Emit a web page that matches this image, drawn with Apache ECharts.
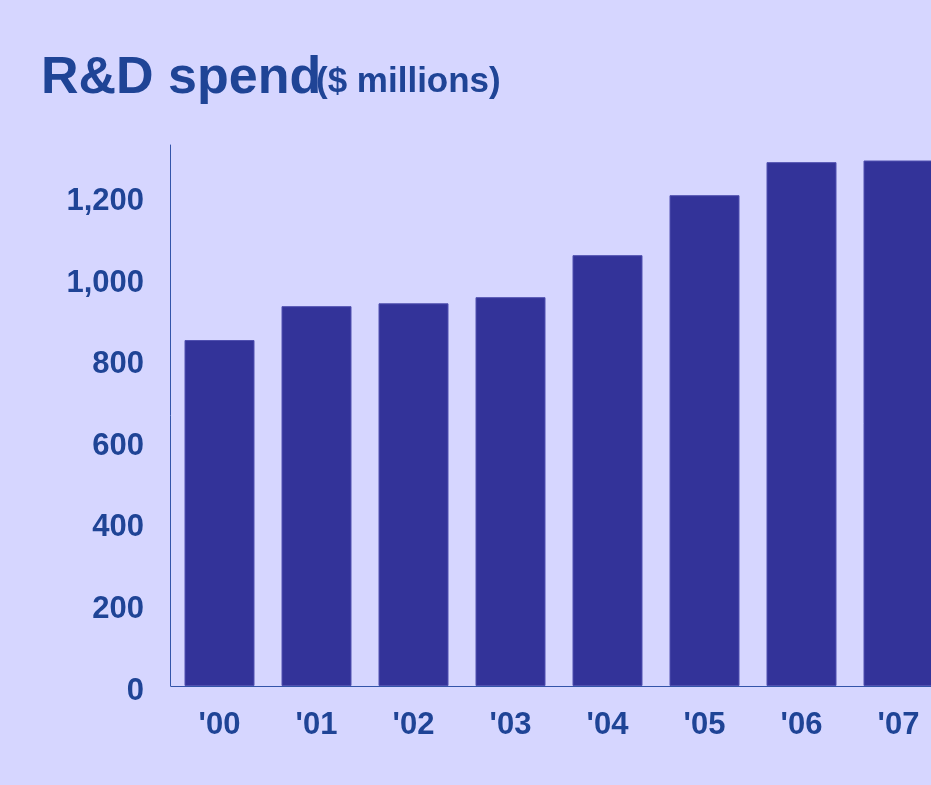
<!DOCTYPE html>
<html>
<head>
<meta charset="utf-8">
<script src="https://cdn.jsdelivr.net/npm/echarts@6/dist/echarts.min.js"></script>
<style>
html,body{margin:0;padding:0;background:#d6d6ff;overflow:hidden;width:931px;height:785px;}
#chart{width:960px;height:785px;}
</style>
</head>
<body>
<div id="chart"></div>
<script>
var categories = ["'00", "'01", "'02", "'03", "'04", "'05", "'06", "'07"];
var rdSpend = [848, 931, 938, 953, 1056, 1203, 1284, 1288];
var yTicks = [0, 200, 400, 600, 800, 1000, 1200];

var textColor = '#1f4496';
var font = '"Liberation Sans", Arial, sans-serif';

var chart = echarts.init(document.getElementById('chart'));
chart.setOption({
  backgroundColor: '#d6d6ff',
  animation: false,
  title: [
    { text: 'R&D spend', left: 36, top: 48,
      textStyle: { color: textColor, fontFamily: font, fontWeight: 'bold', fontSize: 52 } },
    { text: '($ millions)', left: 311, top: 60,
      textStyle: { color: textColor, fontFamily: font, fontWeight: 'bold', fontSize: 35 } }
  ],
  grid: { left: 171, top: 145, width: 776, bottom: 99, containLabel: false },
  xAxis: {
    type: 'category',
    data: categories,
    axisLine: { lineStyle: { color: '#3355aa', width: 1 } },
    axisTick: { show: false },
    axisLabel: { color: textColor, fontFamily: font, fontWeight: 'bold', fontSize: 31, margin: 24 }
  },
  yAxis: {
    type: 'value',
    min: 0, max: 1326, interval: 200,
    offset: 1,
    axisLine: { show: true, lineStyle: { color: '#3355aa', width: 1 } },
    axisTick: { show: false },
    splitLine: { show: false },
    axisLabel: {
      color: textColor, fontFamily: font, fontWeight: 'bold', fontSize: 31, margin: 26,
      showMaxLabel: false,
      formatter: function (v) { return yTicks.indexOf(v) >= 0 ? '{a|' + v.toLocaleString('en-US') + '}' : ''; },
      rich: { a: { color: textColor, fontFamily: font, fontWeight: 'bold', fontSize: 31, padding: [10, 0, 0, 0] } }
    }
  },
  series: [{
    type: 'bar',
    data: rdSpend,
    barWidth: 70,
    itemStyle: { color: '#333399', borderColor: '#5050b0', borderWidth: 1 }
  }]
});
</script>
</body>
</html>
